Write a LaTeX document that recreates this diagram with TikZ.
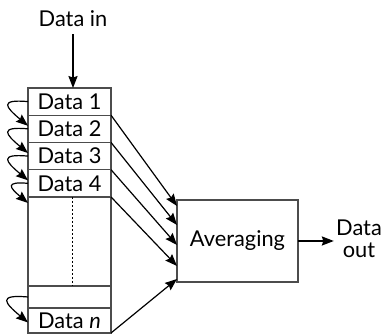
\documentclass[tikz,border=0pt]{standalone}
\usepackage{fontspec}
\setmainfont{Lato}
\usetikzlibrary{arrows.meta,positioning}

\tikzset{
  cell/.style={draw=black!70, line width=0.65pt, minimum width=41.5pt,
    inner sep=0pt, outer sep=0pt},
  arr/.style={line width=0.6pt, -{Stealth[length=6pt,width=4.6pt,inset=0.8pt]}},
  recirc/.style={arr, out=175, in=140, looseness=3.1}
}

\begin{document}
\begin{tikzpicture}[x=0.5pt, y=-0.5pt, font=\fontsize{10.9}{12}\selectfont]

    \useasboundingbox (0,0) rectangle (382,335);

% Registro de datos
	\foreach \i in {1, 2, 3, 4}
		\node[cell, minimum height=13.6pt] (d\i) at (69.5, {101.6+27.25*(\i-1)}) {Data \i};

	\node[cell, minimum height=44.5pt] (gap) at (69.5, 241.5) {};
	\node[cell, minimum height=11pt] (slot) at (69.5, 297) {};
	\node[cell, minimum height=12.5pt] (dn) at (69.5, 320.5) {Data \textit{n}};

	\draw[line width=0.5pt, dash pattern=on 1pt off 1pt]
		([xshift=1.75pt]gap.north) -- ([xshift=1.75pt]gap.south);

% Entrada
	\node (in) at (73, 19) {Data in};
	\coordinate (inend) at ([xshift=1.75pt]d1.north);
	\draw[arr] (in.south -| inend) -- (inend);

% Realimentacion
	\foreach \i [count=\j from 2] in {1, 2, 3}
		\draw[recirc] (d\i.west) to ([yshift=1.5pt]d\j.west);
	\draw[recirc] (d4.west) to ([yshift=-3pt]gap.north west);
	\draw[recirc] (slot.west) to ([yshift=-1pt]dn.west);

% Promedio
	\node[cell, minimum width=60.5pt, minimum height=41pt] (avg) at (237.5, 241) {Averaging};

	\foreach \i/\dy in {1/3, 2/12.5, 3/22.5, 4/33}
		\draw[arr] (d\i.south east) -- ([yshift=-\dy pt]avg.north west);
	\draw[arr] (dn.south east) -- ([yshift=-39.5pt]avg.north west);

% Salida
	\node[align=center, inner sep=1pt] (out) at (359, 239) {Data\\[-1pt]out};
	\draw[arr] (avg.east) -- (out.west |- avg.east);
\end{tikzpicture}
\end{document}
